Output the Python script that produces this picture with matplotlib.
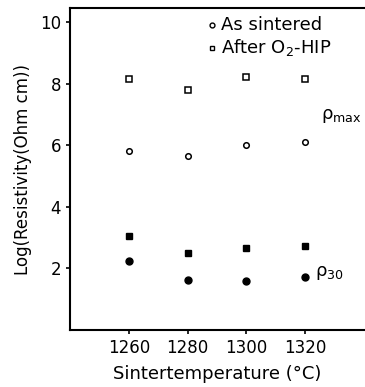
import numpy as np
import matplotlib.pyplot as plt

temps = [1260, 1280, 1300, 1320]
# rho_max
sintered_max = [5.82, 5.65, 6.0, 6.1]
hip_max = [8.15, 7.78, 8.2, 8.15]
# rho_30
sintered_30 = [2.24, 1.64, 1.59, 1.71]
hip_30 = [3.05, 2.5, 2.65, 2.72]

fig = plt.figure(figsize=(3.65, 3.87), dpi=100)
ax = fig.add_axes([0.192, 0.147, 0.805, 0.832])

ax.plot(temps, sintered_max, 'o', ms=4, mfc='white', mec='black', mew=1.1, ls='none')
ax.plot(temps, hip_max, 's', ms=4, mfc='white', mec='black', mew=1.1, ls='none')
ax.plot(temps, sintered_30, 'o', ms=5, color='black', ls='none')
ax.plot(temps, hip_30, 's', ms=5, color='black', ls='none')

ax.set_xlim(1240, 1340)
ax.set_ylim(0, 10.45)
ax.set_xticks(temps)
ax.set_yticks([2, 4, 6, 8, 10])
ax.spines['right'].set_visible(False)
for s in ['left', 'bottom', 'top']:
    ax.spines[s].set_linewidth(1.5)
ax.tick_params(direction='out', length=3, width=1.2, labelsize=12)

ax.set_xlabel("Sintertemperature (°C)", fontsize=13, labelpad=6)
ax.set_ylabel("Log(Resistivity(Ohm cm))", fontsize=12, labelpad=6)

# legend drawn as text with markers
ax.plot([1288.3], [9.9], 'o', ms=3.5, mfc='white', mec='black', mew=1.0, clip_on=False)
ax.text(1291.2, 9.9, "As sintered", fontsize=13, va='center')
ax.plot([1288.3], [9.17], 's', ms=3.5, mfc='white', mec='black', mew=1.0, clip_on=False)
ax.text(1291.2, 9.17, "After O$_2$-HIP", fontsize=13, va='center')

ax.text(1325.5, 6.95, "ρ$_{\\mathrm{max}}$", fontsize=13, va='center')
ax.text(1323.5, 1.85, "ρ$_{30}$", fontsize=13, va='center')

fig.savefig("out.png", dpi=100)
